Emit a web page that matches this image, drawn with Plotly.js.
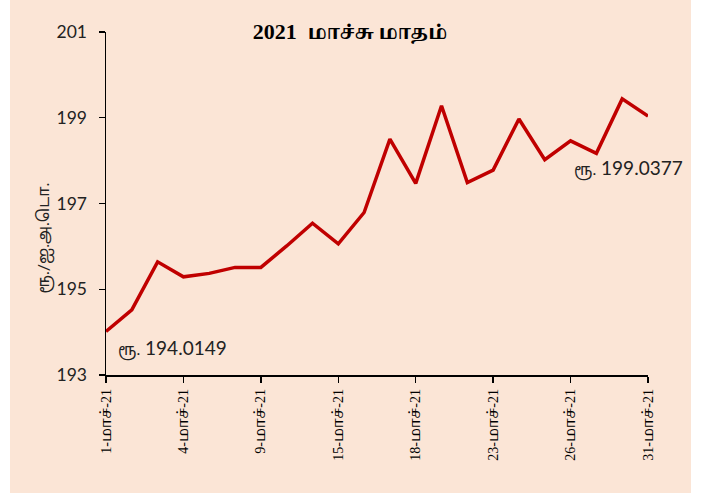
<!DOCTYPE html>
<html>
<head>
<meta charset="utf-8">
<script src="https://cdn.plot.ly/plotly-3.0.1.min.js"></script>
<style>
html,body{margin:0;padding:0;background:#ffffff;width:709px;height:495px;overflow:hidden;}
#chart{position:absolute;left:10px;top:0;width:681px;height:493px;}
</style>
</head>
<body>
<div id="chart"></div>
<script>
const days = [1,2,3,4,5,8,9,10,12,15,16,17,18,19,22,23,24,25,26,29,30,31];
const monthWord = "மாச்";
const categories = days.map(d => d + "-" + monthWord + "-21");
const rates = [194.0149,194.52,195.64,195.29,195.37,195.51,195.51,196.01,196.54,196.06,196.79,198.50,197.47,199.28,197.49,197.78,198.97,198.02,198.46,198.17,199.44,199.0377];
const tickIdx = [0,3,6,9,12,15,18,21];
const yTicks = [193,195,197,199,201];
const titleYear = "2021";
const titleTamil = "மாச்சு மாதம்";
const yTitle = "ரூ./ஐ.அ.டொ.";
const prefix = "ரூ.";

const serif = 'Liberation Serif, Noto Serif Tamil, Noto Sans Tamil, serif';
const sans = 'Lato, Noto Sans Tamil, sans-serif';
const sized = (t, px) => '<span style="font-size:' + px + 'px">' + t + '</span>';

const xIdx = categories.map((c,i)=>i);
const trace = {
  x: xIdx, y: rates, type: 'scatter', mode: 'lines',
  line: {color: '#C00000', width: 3.5}, hoverinfo: 'skip'
};
const last = rates.length - 1;
const tickText = tickIdx.map(i => days[i] + "-" + sized(monthWord, 15) + "-21");
const layout = {
  width: 681, height: 493,
  paper_bgcolor: '#FBE5D6', plot_bgcolor: '#FBE5D6',
  margin: {l: 96, r: 43, t: 32, b: 118},
  showlegend: false,
  title: {text: '<b>' + titleYear + '  ' + sized(titleTamil, 19.5) + '</b>', font: {family: serif, size: 22, color: '#000'},
          x: 340/681, xanchor: 'center', y: 1 - 31/493, yanchor: 'middle'},
  xaxis: {
    range: [0, last], tickmode: 'array', tickvals: tickIdx.map(i=>i), ticktext: tickText,
    tickangle: -90, ticks: 'outside', ticklen: 6, tickcolor: '#000', tickwidth: 1.3,
    showline: true, linecolor: '#000', linewidth: 1.5, showgrid: false, zeroline: false,
    tickfont: {family: serif, size: 14, color: '#000'}, ticklabelstandoff: 1
  },
  yaxis: {
    range: [193, 201], tickvals: yTicks, ticks: 'outside', ticklen: 6, tickcolor: '#000', tickwidth: 1.3,
    showline: true, linecolor: '#000', linewidth: 1.5, showgrid: false, zeroline: false,
    tickfont: {family: sans, size: 17.5, color: '#222'}, ticklabelstandoff: 8
  },
  annotations: [
    {x: 0, y: rates[0], xref: 'x', yref: 'y', text: sized(prefix, 16) + ' ' + rates[0].toFixed(4), showarrow: false,
     xanchor: 'left', yanchor: 'middle', xshift: 10, yshift: -17,
     font: {family: sans, size: 19, color: '#222'}},
    {x: last, y: rates[last], xref: 'x', yref: 'y', text: sized(prefix, 16) + ' ' + rates[last].toFixed(4), showarrow: false,
     xanchor: 'left', yanchor: 'middle', xshift: -76, yshift: -52,
     font: {family: sans, size: 19, color: '#222'}},
    {x: -0.115, y: 0.40, xref: 'paper', yref: 'paper', text: yTitle, showarrow: false,
     textangle: -90, xanchor: 'center', yanchor: 'middle',
     font: {family: sans, size: 16, color: '#222'}}
  ]
};
Plotly.newPlot('chart', [trace], layout, {displayModeBar: false, staticPlot: true});
</script>
</body>
</html>
